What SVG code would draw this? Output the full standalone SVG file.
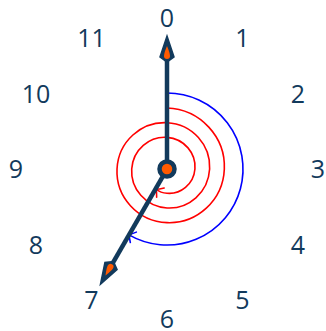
<svg xmlns="http://www.w3.org/2000/svg" width="326" height="331" viewBox="0 0 326 331">
<defs>
<style>
.lbl{font-family:"Open Sans","DejaVu Sans",sans-serif;font-size:25px;fill:#123a5c;text-anchor:middle}
.hand{fill:none;stroke:#123a5c;stroke-width:4.5;stroke-linecap:butt}
.tip{fill:#123a5c;stroke:#123a5c;stroke-width:1.5;stroke-linejoin:miter}
.flame{fill:#ff5a00}
.red{fill:none;stroke:#ff0000;stroke-width:1.6}
.blue{fill:none;stroke:#0000ff;stroke-width:1.6}
</style>
<marker id="arR" markerUnits="userSpaceOnUse" viewBox="-8 -7 10 14" markerWidth="10" markerHeight="14" refX="0" refY="0" orient="auto" overflow="visible">
<path d="M-5,-6 Q-1.5,-1.5 0.5,0 Q-1.5,1.5 -5,6" fill="none" stroke="#ff0000" stroke-width="1.6" stroke-linecap="round"/>
</marker>
<marker id="arB" markerUnits="userSpaceOnUse" viewBox="-8 -7 10 14" markerWidth="10" markerHeight="14" refX="0" refY="0" orient="auto" overflow="visible">
<path d="M-5,-6 Q-1.5,-1.5 0.5,0 Q-1.5,1.5 -5,6" fill="none" stroke="#0000ff" stroke-width="1.6" stroke-linecap="round"/>
</marker>
<g id="handShape">
<line class="hand" x1="0" y1="0" x2="0" y2="-108"/>
<path class="tip" d="M0,-133 L7,-112 L0,-107 L-7,-112 Z"/>
<path class="flame" d="M0,-123 Q3,-116 3,-113 Q3,-110 0,-110 Q-3,-110 -3,-113 Q-3,-116 0,-123 Z"/>
</g>
</defs>
<g id="labels">
<text class="lbl" x="167" y="27">0</text>
<text class="lbl" x="242.5" y="47.2">1</text>
<text class="lbl" x="298" y="102.5">2</text>
<text class="lbl" x="318" y="178">3</text>
<text class="lbl" x="298" y="253.5">4</text>
<text class="lbl" x="242.5" y="309">5</text>
<text class="lbl" x="167" y="327.5">6</text>
<text class="lbl" x="91.5" y="309">7</text>
<text class="lbl" x="36" y="253.5">8</text>
<text class="lbl" x="16" y="178">9</text>
<text class="lbl" x="36" y="102.5">10</text>
<text class="lbl" x="91.5" y="47.2">11</text>
</g>
<g id="connectors">
<path class="blue" d="M167,93 A76,76 0 1 1 129,234.82" marker-end="url(#arB)"/>
<path class="red" marker-end="url(#arR)" d="M167,108 C200.69,109.29 225.62,137.34 224.33,169 C223.04,200.66 196.63,223.94 167,222.65 C137.37,221.36 115.73,196.6 117.02,169 C118.31,141.4 141.43,121.4 167,122.69 C192.57,123.99 210.92,145.45 209.63,169 C208.34,192.55 188.52,209.25 167,207.96 C145.48,206.67 130.42,188.49 131.71,169 C133.01,149.51 149.54,136.1 167,137.39 C184.46,138.68 196.23,153.57 194.94,169 C193.65,184.43 180.4,194.56 167,193.27 C162.74,192.86 158.78,191.33 156.5,189.5"/>
</g>
<g id="hand-0">
<use href="#handShape" transform="translate(167,169)"/>
</g>
<g id="hand-7">
<use href="#handShape" transform="translate(167,169) rotate(210)"/>
</g>
<g id="hub">
<circle cx="167" cy="169" r="7.5" fill="#ff5a00" stroke="#123a5c" stroke-width="4.5"/>
</g>
</svg>
